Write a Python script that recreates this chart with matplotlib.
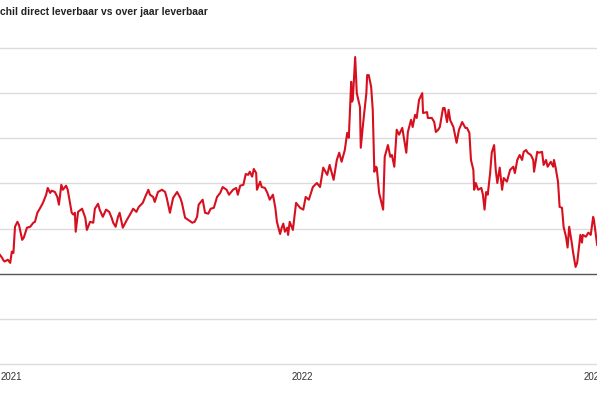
import pandas as pd
import matplotlib.pyplot as plt

# titel (links afgesneden in het origineel)
title = "chil direct leverbaar vs over jaar leverbaar"

# jaar-labels op de x-as
year_ticks = ["2021-01-01", "2022-01-01", "2023-01-01"]
year_labels = ["2021", "2022", "2023"]

dates = [
    "2020-12-18", "2020-12-21", "2020-12-22", "2020-12-24", "2020-12-28", "2020-12-31",
    "2021-01-02", "2021-01-04", "2021-01-06", "2021-01-09", "2021-01-11", "2021-01-15",
    "2021-01-17", "2021-01-21", "2021-01-25", "2021-01-29", "2021-01-31", "2021-02-03",
    "2021-02-06", "2021-02-10", "2021-02-14", "2021-02-16", "2021-02-19", "2021-02-21",
    "2021-02-25", "2021-02-28", "2021-03-02", "2021-03-05", "2021-03-07", "2021-03-11",
    "2021-03-13", "2021-03-18", "2021-03-20", "2021-03-22", "2021-03-23", "2021-03-26",
    "2021-03-31", "2021-04-04", "2021-04-06", "2021-04-10", "2021-04-14", "2021-04-16",
    "2021-04-20", "2021-04-22", "2021-04-26", "2021-04-30", "2021-05-04", "2021-05-07",
    "2021-05-09", "2021-05-12", "2021-05-15", "2021-05-17", "2021-05-21", "2021-05-26",
    "2021-05-30", "2021-06-03", "2021-06-07", "2021-06-10", "2021-06-15", "2021-06-18",
    "2021-06-22", "2021-06-24", "2021-06-28", "2021-06-30", "2021-07-04", "2021-07-09",
    "2021-07-13", "2021-07-15", "2021-07-19", "2021-07-23", "2021-07-28", "2021-08-01",
    "2021-08-03", "2021-08-07", "2021-08-11", "2021-08-16", "2021-08-19", "2021-08-22",
    "2021-08-24", "2021-08-29", "2021-09-01", "2021-09-05", "2021-09-08", "2021-09-12",
    "2021-09-16", "2021-09-20", "2021-09-23", "2021-09-28", "2021-10-01", "2021-10-06",
    "2021-10-10", "2021-10-12", "2021-10-15", "2021-10-19", "2021-10-22", "2021-10-25",
    "2021-10-27", "2021-10-30", "2021-11-01", "2021-11-04", "2021-11-05", "2021-11-09",
    "2021-11-11", "2021-11-15", "2021-11-18", "2021-11-21", "2021-11-25", "2021-11-28",
    "2021-11-30", "2021-12-04", "2021-12-06", "2021-12-08", "2021-12-10", "2021-12-13",
    "2021-12-14", "2021-12-16", "2021-12-20", "2021-12-24", "2021-12-29", "2022-01-02",
    "2022-01-05", "2022-01-09", "2022-01-14", "2022-01-19", "2022-01-23", "2022-01-27",
    "2022-02-01", "2022-02-04", "2022-02-09", "2022-02-13", "2022-02-16", "2022-02-19",
    "2022-02-23", "2022-02-26", "2022-02-28", "2022-03-03", "2022-03-04", "2022-03-05",
    "2022-03-08", "2022-03-10", "2022-03-14", "2022-03-15", "2022-03-18", "2022-03-22",
    "2022-03-23", "2022-03-25", "2022-03-28", "2022-03-30", "2022-04-01", "2022-04-03",
    "2022-04-04", "2022-04-07", "2022-04-12", "2022-04-14", "2022-04-18", "2022-04-21",
    "2022-04-23", "2022-04-26", "2022-04-29", "2022-05-02", "2022-05-06", "2022-05-08",
    "2022-05-11", "2022-05-13", "2022-05-17", "2022-05-19", "2022-05-22", "2022-05-24",
    "2022-05-27", "2022-05-31", "2022-06-01", "2022-06-06", "2022-06-07", "2022-06-12",
    "2022-06-15", "2022-06-17", "2022-06-20", "2022-06-22", "2022-06-26", "2022-06-28",
    "2022-07-01", "2022-07-03", "2022-07-05", "2022-07-09", "2022-07-13", "2022-07-16",
    "2022-07-20", "2022-07-24", "2022-07-26", "2022-07-29", "2022-07-31", "2022-08-03",
    "2022-08-04", "2022-08-06", "2022-08-09", "2022-08-13", "2022-08-15", "2022-08-17",
    "2022-08-19", "2022-08-21", "2022-08-24", "2022-08-26", "2022-08-29", "2022-08-31",
    "2022-09-02", "2022-09-05", "2022-09-08", "2022-09-10", "2022-09-14", "2022-09-18",
    "2022-09-22", "2022-09-24", "2022-09-27", "2022-09-30", "2022-10-03", "2022-10-05",
    "2022-10-08", "2022-10-10", "2022-10-14", "2022-10-17", "2022-10-18", "2022-10-22",
    "2022-10-24", "2022-10-28", "2022-10-30", "2022-11-02", "2022-11-04", "2022-11-08",
    "2022-11-11", "2022-11-12", "2022-11-14", "2022-11-17", "2022-11-19", "2022-11-22",
    "2022-11-24", "2022-11-27", "2022-11-29", "2022-12-01", "2022-12-04", "2022-12-06",
    "2022-12-09", "2022-12-11", "2022-12-15", "2022-12-17", "2022-12-18", "2022-12-22",
    "2022-12-25", "2022-12-28", "2022-12-31", "2023-01-01", "2023-01-05",
]
values = [
    4.2, 3.5, 3.1, 2.7, 3.1, 2.4,
    4.9, 4.6, 10.4, 11.5, 10.8, 7.5,
    8.0, 10.2, 10.4, 11.3, 11.5, 13.5,
    14.4, 15.7, 17.5, 19.0, 17.9, 18.4,
    18.1, 17.0, 15.3, 19.7, 18.6, 19.5,
    18.6, 13.5, 13.1, 13.5, 9.3, 13.7,
    14.4, 12.4, 9.7, 11.5, 11.3, 14.4,
    15.5, 14.2, 12.6, 14.2, 13.7, 12.4,
    11.3, 10.4, 12.6, 13.5, 10.2, 11.9,
    13.1, 14.4, 13.7, 14.8, 15.7, 17.0,
    18.6, 17.5, 17.0, 15.9, 18.1, 18.6,
    18.1, 16.8, 13.5, 16.8, 18.1, 16.8,
    15.7, 12.4, 11.9, 11.3, 11.5, 12.6,
    15.3, 16.4, 13.5, 13.3, 14.4, 14.6,
    17.0, 17.9, 19.2, 18.6, 17.5, 18.6,
    19.0, 17.5, 19.5, 19.7, 22.1, 21.9,
    22.6, 21.5, 23.2, 22.3, 18.6, 20.4,
    19.2, 19.0, 17.9, 16.4, 17.5, 14.6,
    11.5, 8.8, 10.2, 11.1, 9.3, 10.2,
    8.6, 11.5, 9.7, 15.7, 14.6, 14.2,
    17.0, 16.4, 19.2, 20.1, 19.2, 23.5,
    21.9, 24.1, 20.8, 25.2, 26.8, 24.8,
    27.4, 31.2, 30.1, 42.5, 38.1, 38.5,
    48.0, 40.0, 36.9, 27.9, 33.4, 40.0,
    44.0, 44.0, 41.4, 36.3, 22.6, 23.7,
    23.5, 17.9, 14.2, 25.9, 28.5, 25.9,
    26.3, 23.7, 31.9, 30.8, 32.3, 30.1,
    26.8, 31.4, 34.1, 32.5, 35.2, 34.5,
    38.5, 40.0, 35.6, 35.8, 34.5, 34.5,
    33.6, 31.4, 31.9, 32.5, 36.7, 36.7,
    33.6, 36.3, 34.0, 32.5, 29.0, 31.9,
    33.6, 32.3, 32.3, 31.2, 25.2, 23.0,
    18.6, 20.1, 18.6, 19.0, 17.5, 14.2,
    18.1, 17.5, 22.3, 26.8, 28.5, 23.0,
    20.1, 23.5, 18.6, 21.2, 20.4, 23.0,
    23.7, 22.3, 25.2, 26.3, 25.2, 27.0,
    27.4, 26.8, 26.3, 25.2, 22.6, 27.0,
    26.8, 27.0, 24.1, 25.2, 23.7, 24.8,
    23.7, 25.2, 23.5, 20.4, 14.8, 14.6,
    10.4, 8.2, 5.8, 10.4, 7.1, 4.6,
    1.5, 2.4, 8.6, 6.9, 8.6, 8.2,
    9.1, 8.6, 12.6, 11.9, 6.4,
]
grid_levels = [-20, -10, 10, 20, 30, 40, 50]

df = pd.DataFrame({"date": pd.to_datetime(dates), "value": values})

font = ["Liberation Sans", "DejaVu Sans"]

fig = plt.figure(figsize=(5.97, 3.98), dpi=100)
ax = fig.add_axes([0, 0.0854, 1, 0.794])

for g in grid_levels:
    ax.axhline(g, color="#dcdcdc", linewidth=1.0, zorder=1, clip_on=False)
ax.axhline(0, color="#555555", linewidth=1.0, zorder=2)

ax.plot(df["date"], df["value"], color="#d7101f", linewidth=1.5, zorder=3)

ax.set_xlim(pd.Timestamp("2020-12-18 05:00"), pd.Timestamp("2023-01-04 20:00"))
ax.set_ylim(-20, 50)
ax.set_yticks([])
ax.set_xticks(pd.to_datetime(year_ticks))
ax.set_xticklabels(year_labels)
ax.tick_params(axis="x", length=0, pad=6, labelsize=7, labelcolor="#333333")
for lbl in ax.get_xticklabels():
    lbl.set_family(font)
for s in ax.spines.values():
    s.set_visible(False)

fig.text(0.0, 1 - 12 / 398, title, ha="left", va="center", fontsize=7.4,
         fontweight="bold", color="#222222", family=font)

fig.savefig("out.png", dpi=100)
